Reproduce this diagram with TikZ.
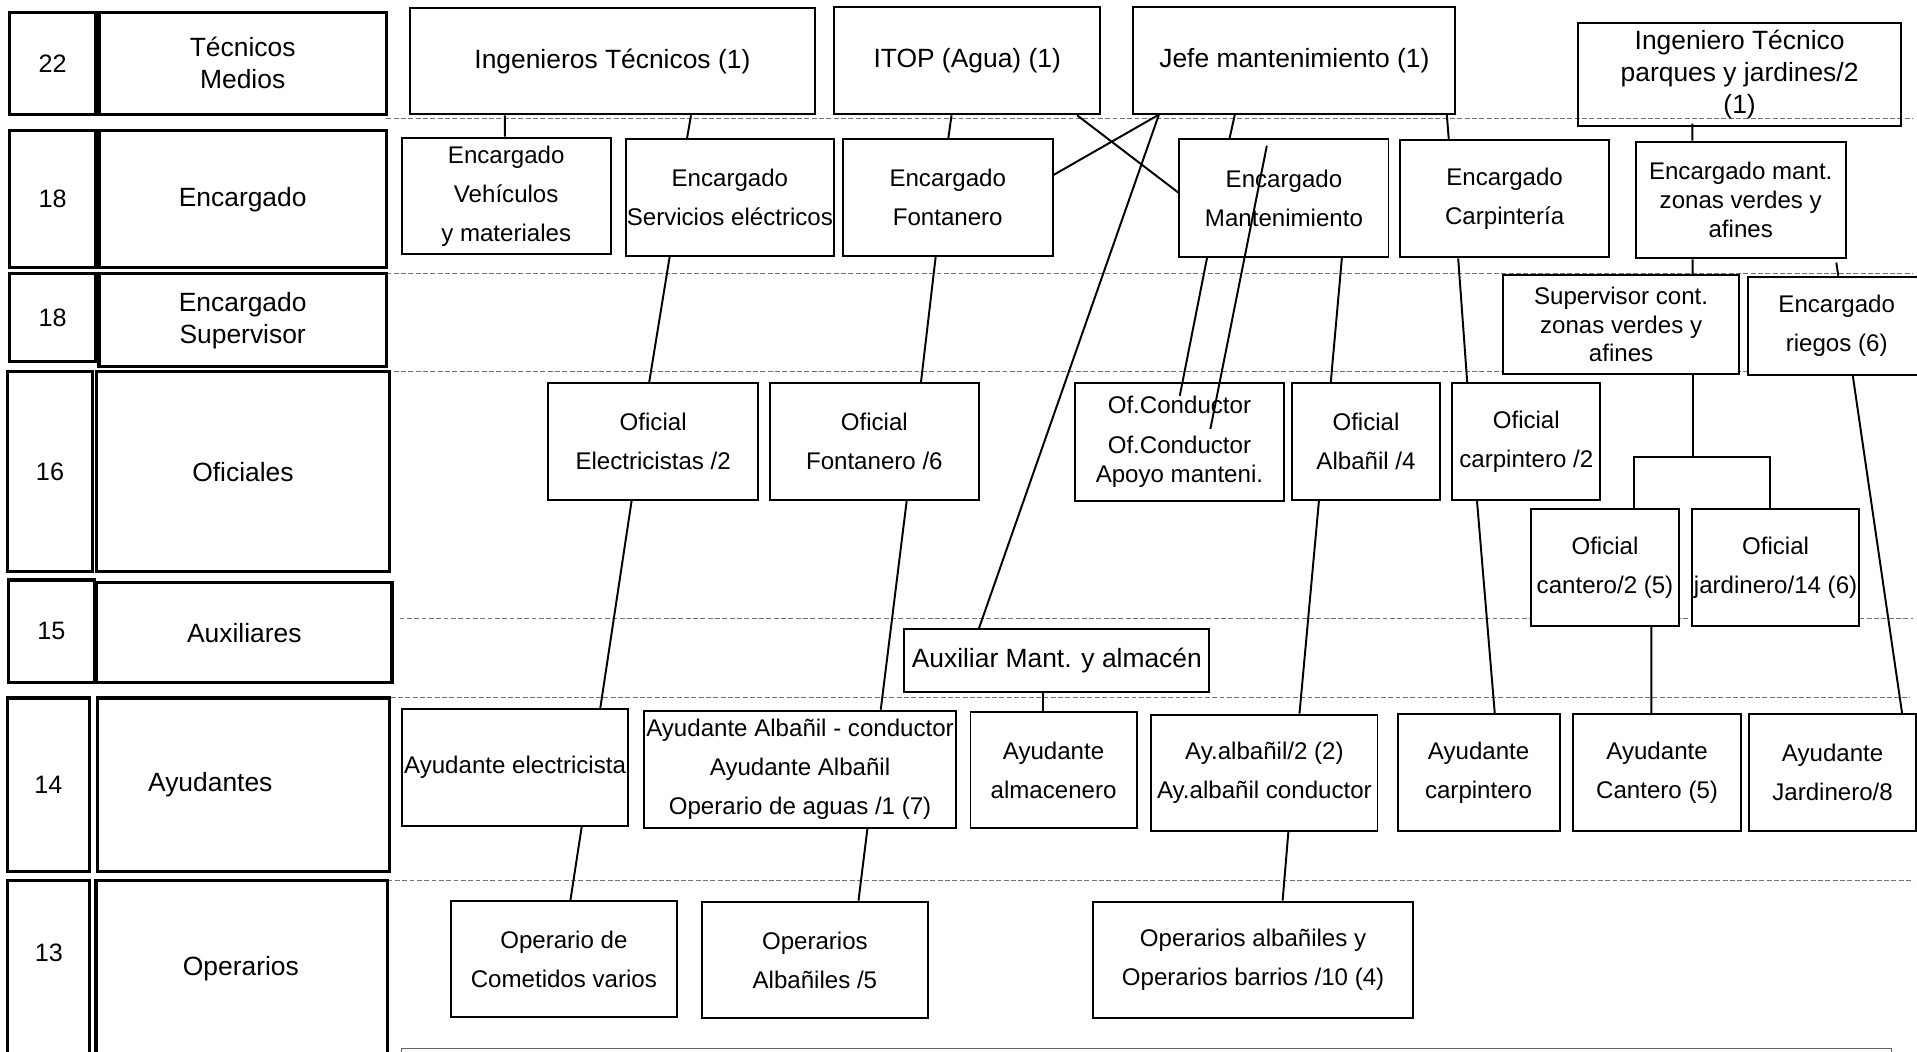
\documentclass[tikz,border=0pt]{standalone}
\usepackage{fontspec}
\setmainfont{Liberation Sans}
\usetikzlibrary{calc}
\newcommand\fsA{\fontsize{9.85pt}{16pt}\selectfont}
\newcommand\fsB{\fontsize{9.85pt}{11.75pt}\selectfont}
\newcommand\fsL{\fontsize{10.8pt}{13pt}\selectfont}
\newcommand\fsN{\fontsize{10.3pt}{12pt}\selectfont}
\begin{document}
\begin{tikzpicture}[x=0.5pt,y=-0.5pt,
  box at/.style n args={4}{minimum width={(#3-#1)*0.5pt}, minimum height={(#4-#2)*0.5pt}, at={({(#1+#3)/2},{(#2+#4)/2})}},
  bx/.style={draw, line width=0.8pt, fill=white, inner sep=0pt, align=center, font=\fsA},
  tbx/.style={bx, font=\fsB},
  bbx/.style={bx, font=\fsL},
  lbx/.style={draw, line width=1.3pt, fill=white, inner sep=0pt, align=center, font=\fsL},
  nbx/.style={lbx, font=\fsN},
  sep/.style={draw=black!55, line width=0.4pt, dash pattern=on 2pt off 1pt},
  ln/.style={line width=0.8pt}]
\useasboundingbox (0,0) rectangle (1568,860);
\fill[white] (0,0) rectangle (1568,860);
\clip (0,0) rectangle (1568,860);

% separators
\draw[sep] (316,96.8) -- (1565,96.8);
\draw[sep] (316,224) -- (1565,224);
\draw[sep] (316,303.8) -- (1565,303.8);
\draw[sep] (326.8,505.8) -- (1565,505.8);
\draw[sep] (319.5,570.6) -- (1562,570.6);
\draw[sep] (317,719.8) -- (1565,719.8);

% left column
\node[nbx, box at={8}{10}{78}{93.5}] (n22) {22};
\node[lbx, box at={81}{10}{316}{93.5}] (l22) {Técnicos\\Medios};
\node[nbx, box at={8}{107}{78}{219}] (n18a) {18};
\node[lbx, box at={81}{107}{316}{219}] (l18a) {Encargado};
\node[nbx, box at={8}{224}{78}{296}] (n18b) {18};
\node[lbx, box at={81}{224}{316}{300}] (l18b) {Encargado\\Supervisor};
\node[nbx, box at={6.2}{304}{75.6}{467.6}] (n16) {16};
\node[lbx, box at={79}{304}{318.4}{467.6}] (l16) {Oficiales};
\node[nbx, box at={7}{474.4}{77}{558.4}] (n15) {15};
\node[lbx, box at={79}{476.6}{320.6}{558.4}] (l15) {Auxiliares};
\node[nbx, box at={6.2}{570.9}{73}{713}] (n14) {14};
\node[lbx, box at={79.6}{570.9}{318.4}{713}] (l14) {\hbox{Ayudantes\kern27pt}};
\node[nbx, box at={6.2}{720}{73}{900}] (n13) {};
\node[lbx, box at={78.5}{720}{317}{900}] (l13) {};
\node[font=\fsN, inner sep=0pt] (t13) at (40,779.7) {13};
\node[font=\fsL, inner sep=0pt] (top13) at (197,792) {Operarios};

% row 22
\node[bbx, box at={335}{6.8}{666.8}{93.5}] (ingtec) {Ingenieros Técnicos (1)};
\node[bbx, box at={682.5}{6}{899.7}{93.5}] (itop) {ITOP (Agua) (1)};
\node[bbx, box at={927}{6}{1190.4}{93}] (jefe) {Jefe mantenimiento (1)};
\node[bbx, fill=none, box at={1291}{18.5}{1554.8}{103}] (ingpj) {Ingeniero Técnico\\parques y jardines/2\\(1)};

% row encargado
\node[bx, box at={328.6}{112.6}{499.5}{208}] (encveh) {Encargado\\Vehículos\\y materiales};
\node[bx, box at={512}{113.7}{682}{209.4}] (encse) {Encargado\\Servicios eléctricos};
\node[bx, box at={689.4}{113.7}{861}{209.4}] (encfon) {Encargado\\Fontanero};
\node[bx, box at={964.7}{114}{1135.7}{210}] (encmant) {Encargado\\Mantenimiento};
\node[bx, box at={1145.4}{114.5}{1316}{210.5}] (enccarp) {Encargado\\Carpintería};
\node[tbx, box at={1337.9}{115.9}{1509.7}{211.3}] (enczv) {Encargado mant.\\zonas verdes y\\afines};

% row supervisor
\node[tbx, box at={1229.7}{225}{1422.2}{306}] (supzv) {Supervisor cont.\\zonas verdes y\\afines};
\node[bx, box at={1429.6}{226.3}{1575}{306.7}] (encrieg) {Encargado\\riegos (6)};

% row oficiales
\node[bx, box at={448.5}{313.5}{620}{409}] (ofelec) {Oficial\\Electricistas /2};
\node[bx, box at={629.5}{313.5}{800.8}{409}] (offon) {Oficial\\Fontanero /6};
\node[tbx, box at={879.3}{313.5}{1050.1}{409.6}] (ofcond) {Of.Conductor\\[4.7pt]Of.Conductor\\Apoyo manteni.};
\node[bx, box at={1056.4}{313.5}{1178.2}{409}] (ofalb) {Oficial\\Albañil /4};
\node[bx, box at={1187.9}{313.5}{1308.9}{409}] (ofcarp) {Oficial\\carpintero /2};
\node[bx, box at={1252.3}{416.3}{1373.3}{511.8}] (ofcant) {Oficial\\cantero/2 (5)};
\node[bx, box at={1384.2}{416.3}{1520.4}{511.8}] (ofjard) {Oficial\\jardinero/14 (6)};

% row auxiliares
\node[bbx, box at={739.7}{514.8}{989.1}{565.8}] (auxmant) {Auxiliar Mant. y almacén};

% row ayudantes
\node[bx, box at={328.6}{580}{514}{675.4}] (ayelec) {Ayudante electricista};
\node[bx, box at={527}{581.3}{781.8}{677}] (ayalbcond) {Ayudante Albañil - conductor\\Ayudante Albañil\\Operario de aguas /1 (7)};
\node[bx, box at={793.8}{582.5}{929.7}{677.4}] (ayalm) {Ayudante\\almacenero};
\node[bx, box at={941.7}{584.5}{1126.7}{679.7}] (ayalb) {Ay.albañil/2 (2)\\Ay.albañil conductor};
\node[bx, box at={1143.1}{584}{1275.7}{679.7}] (aycarp) {Ayudante\\carpintero};
\node[bx, box at={1286.4}{584}{1424.4}{679.7}] (aycant) {Ayudante\\Cantero (5)};
\node[bx, box at={1430.9}{584}{1567}{679.7}] (ayjard) {Ayudante\\Jardinero/8};

% row operarios
\node[bx, box at={368.8}{737}{553.6}{832}] (opcom) {Operario de\\Cometidos varios};
\node[bx, box at={574}{737.5}{759.1}{833}] (opalb) {Operarios\\Albañiles /5};
\node[bx, box at={894.3}{737.5}{1155.6}{833}] (opbar) {Operarios albañiles y\\Operarios barrios /10 (4)};

% bottom note frame
\node[draw=black!60, line width=0.6pt, inner sep=0pt, box at={328.6}{857.5}{1547}{900}] (nota) {};

% connectors
\draw[ln] ($(ingtec.south)+(-88,0)$) -- ($(encveh.north)+(-1,0)$);
\draw[ln] ($(ingtec.south)+(64.3,0)$) -- ($(encse.north)+(-35,0)$);
\draw[ln] ($(itop.south)+(-12.8,0)$) -- ($(encfon.north)+(0.5,0)$);
\draw[ln] ($(itop.south)+(89.9,0)$) -- ($(encmant.west)+(0,-4.4)$);
\draw[ln] ($(jefe.south)+(-110.8,0)$) -- ($(encfon.east)+(0,-18.5)$);
\draw[ln] ($(jefe.south)+(-110.8,0)$) -- ($(auxmant.north)+(-63.7,0)$);
\draw[ln] ($(jefe.south)+(-48.7,0)$) -- ($(encmant.north)+(-44.5,0)$);
\draw[ln] ($(jefe.south)+(124.7,0)$) -- ($(enccarp.north)+(-45.7,0)$);
\draw[ln] ($(encmant.north)+(-14,6)$) -- ($(ofcond.north)+(25.3,38.2)$);
\draw[ln] ($(encmant.south)+(-62.9,0)$) -- ($(ofcond.north)+(0.3,11)$);
\draw[ln] ($(encmant.south)+(47.4,0)$) -- ($(ofalb.north)+(-28.8,0)$);
\draw[ln] ($(enccarp.south)+(-38,0)$) -- ($(ofcarp.north)+(-48.3,0)$);
\draw[ln] ($(ingpj.south)+(-38.7,-2.7)$) -- ($(enczv.north)+(-39.6,0)$);
\draw[ln] ($(enczv.south)+(-39.3,0)$) -- ($(supzv.north)+(58.5,0)$);
\draw[ln] ($(enczv.south)+(78.2,2.7)$) -- ($(encrieg.north)+(1.3,0)$);
\coordinate (jz) at ($(supzv.south)+(59.2,67)$);
\draw[ln] ($(supzv.south)+(59.2,0)$) -- (jz);
\draw[ln] ($(ofcant.north)+(23.5,0)$) |- (jz) -| ($(ofjard.north)+(-4.4,0)$);
\draw[ln] ($(encrieg.south)+(13.2,0)$) -- ($(ayjard.north)+(56.8,0)$);
\draw[ln] ($(ofcant.south)+(37.9,0)$) -- ($(aycant.north)+(-4.7,0)$);
\draw[ln] ($(ofalb.south)+(-38.5,0)$) -- ($(ayalb.north)+(28.7,0)$);
\draw[ln] ($(ofcarp.south)+(-40.3,0)$) -- ($(aycarp.north)+(13.2,0)$);
\draw[ln] ($(encse.south)+(-49.3,0)$) -- ($(ofelec.north)+(-3.25,0)$);
\draw[ln] ($(ofelec.south)+(-17.65,0)$) -- ($(ayelec.north)+(69.7,0)$);
\draw[ln] ($(ayelec.south)+(54.5,0)$) -- ($(opcom.north)+(5.4,0)$);
\draw[ln] ($(encfon.south)+(-9.9,0)$) -- ($(offon.north)+(38.15,0)$);
\draw[ln] ($(offon.south)+(26.45,0)$) -- ($(ayalbcond.north)+(66,0)$);
\draw[ln] ($(ayalbcond.south)+(55.1,0)$) -- ($(opalb.north)+(35.65,0)$);
\draw[ln] ($(auxmant.south)+(-11.4,0)$) -- ($(ayalm.north)+(-8.75,0)$);
\draw[ln] ($(ayalb.south)+(19.6,0)$) -- ($(opbar.north)+(24.15,0)$);
\end{tikzpicture}
\end{document}
